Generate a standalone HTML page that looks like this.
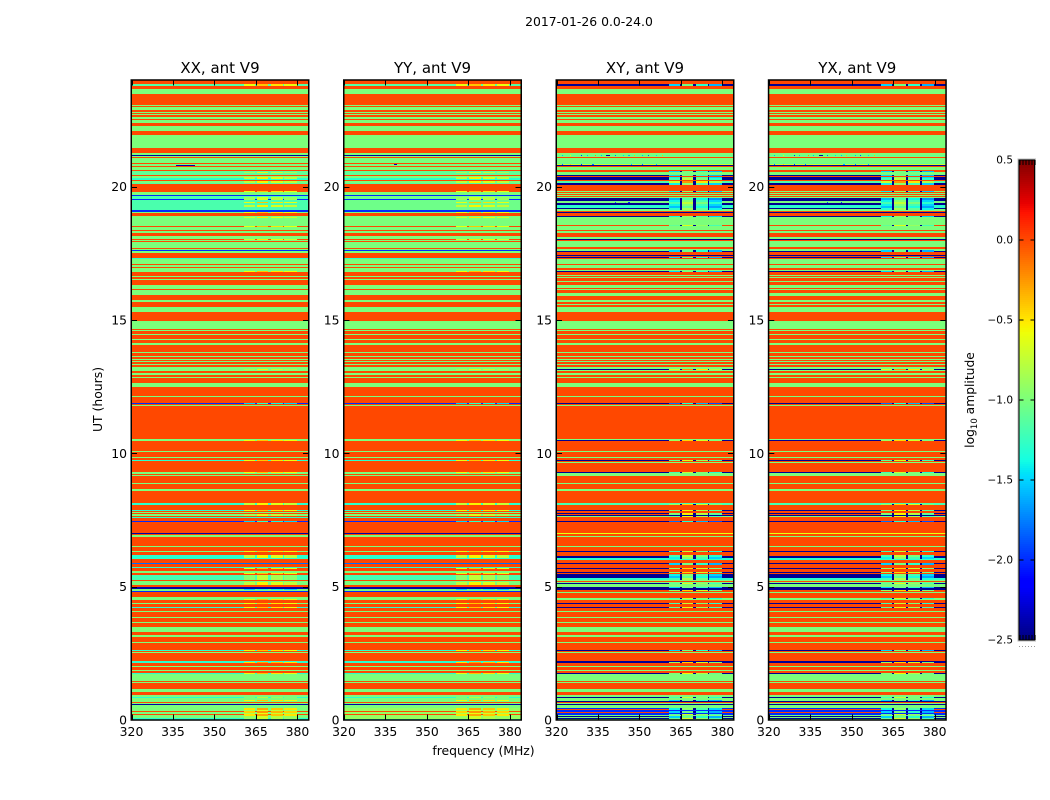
<!DOCTYPE html>
<html lang="en">
<head>
<meta charset="utf-8">
<title>2017-01-26 0.0-24.0 amplitude spectrograms</title>
<style>
html,body{margin:0;padding:0;background:#fff;width:1050px;height:800px;overflow:hidden}
svg{display:block}
text{font-family:"DejaVu Sans","Liberation Sans",sans-serif;fill:#000}
</style>
</head>
<body>
<svg id="figure" xmlns="http://www.w3.org/2000/svg" width="1050" height="800" viewBox="0 0 1050 800">
  <rect x="0" y="0" width="1050" height="800" fill="#fff"/>
  <text x="589" y="26" font-size="12.4" text-anchor="middle">2017-01-26 0.0-24.0</text>
  <text transform="translate(102,399.5) rotate(-90)" font-size="12.4" text-anchor="middle">UT (hours)</text>
  <text x="483.5" y="755" font-size="12.4" text-anchor="middle">frequency (MHz)</text>
  <text transform="translate(974,400) rotate(-90)" font-size="12.3" text-anchor="middle">log<tspan font-size="8.5" dy="3">10</tspan><tspan dy="-3"> amplitude</tspan></text>
  <g id="panels"></g>
  <g id="colorbar"></g>
</svg>
<script>
// Panel titles and axis values
const panelTitles = ["XX, ant V9", "YY, ant V9", "XY, ant V9", "YX, ant V9"];
const freqTickLabels = [320, 335, 350, 365, 380];
const hourTickLabels = [0, 5, 10, 15, 20];
const colorbarTickValues = [0.5, 0, -0.5, -1, -1.5, -2, -2.5];
const colorbarTickLabels = ["0.5", "0.0", "\u22120.5", "\u22121.0", "\u22121.5", "\u22122.0", "\u22122.5"];

// log10 amplitude by time row, read from 24 h downward; flat pairs: value, rows
const parallelRuns = [0,4,-1.15,2,0,3,-1,5,0,11,-1,1,0,1,-1,3,0,2,-1,1,0,1,-1,1,0,2,-1,2,0,1,-1,3,0,3,-1,5,0,4,-1,13,0,5,-1,2,-2.4,1,-1,1,0,1,-1,5,0,1,-1,2,0,1,-1,3,0,1,-1.1,4,0,1,-1,2,-1.3,2,0,1,-1,2,-1.15,1,0,8,-1,3,-2,1,-1.2,3,-2,1,-1.18,10,-2,2,-1,1,0,3,-1,10,0,1,-1,3,0,1,-1,2,0,3,-1,3,0,1,-1,1,0,1,-1,6,0,1,-1,1,-2,1,-1,2,0,5,-1.3,1,-1,5,0,1,-1,2,0,1,-1,4,0,4,-1,1,0,2,-1,1,0,5,-1,4,0,1,-1,5,0,5,-1,2,0,2,0,3,-1,5,0,9,-1,8,0,1,-1,1,0,3,-1,1,0,4,-1,1,0,3,-1,2,0,7,-1,1,0,3,-1,1,0,2,-1,1,0,1,-1,1,0,2,-1,1,0,2,-1,4,0,2,-1,2,0,2,-1,1,0,5,-1,4,0,9,-1,1,0,6,-2,1,0,1,-1,1,0,33,-1,2,0,10,-1,1,0,5,-1,1,0,2,-1.3,1,0,11,-1,2,0,1,-1,1,0,7,-1,1,0,5,-1,2,0,12,-1.3,2,0,5,-1.3,1,0,1,-1,1,0,1,-1,2,0,1,-1.3,1,0,3,-2,1,0,11,-2.4,1,0,1,-1,2,0,9,-1,1,0,4,-1,1,0,3,-1.3,4,0,4,-1.8,1,0,3,-1.3,1,0,3,-1,2,0,2,-1.2,5,0,1,-1,4,0,2,-2.4,2,-1,2,-2,1,0,5,-1,3,0,3,-1,1,0,3,-1.3,1,0,3,-1,1,0,5,-1,1,0,4,-1,1,0,4,-1,5,0,3,-1,2,0,5,-1,1,0,7,-1.3,1,0,1,-1,1,0,8,-1.3,2,0,3,-1,1,0,3,-1,1,0,2,-1.3,1,-1,7,0,1,-1,1,0,6,-1,3,0,3,-1,2,-1.3,1,-1,4,0,1,-1,1,-2.4,1,-1,3,-1,3,0,1,-1,2,0,1,-1,3,-1.3,2];
const crossRuns = [0,4,-2.45,2,0,3,-1,5,0,11,-1,1,0,1,-1,3,0,2,-1,1,0,1,-1,1,0,2,-1,2,0,1,-1,3,0,3,-1,5,0,4,-1,13,0,5,-1,2,-1.1,1,-1,1,0,1,-1,5,-1.1,1,-0.7,1,-2.45,1,0,1,-1,3,0,2,-1,3,-2.45,1,0,1,-2.45,3,0,1,-1.15,2,-2.45,2,0,6,-1,1,0,1,-1,1,0,1,-1,1,0,1,-1,1,-2.45,3,-1,2,-2.45,2,-1.3,3,-2.45,1,-1,2,0,1,-2.45,1,0,3,-2.45,1,-1,8,0,1,-1,4,0,1,-1,2,0,4,-1,2,-2.45,1,0,1,-1,6,0,2,-1,2,-2.45,1,0,3,-2.45,1,0,1,-2.45,1,0,1,-1,5,0,1,-1,3,0,2,-1,1,-2.45,1,0,3,-1,1,0,1,-1,1,0,3,-1,1,0,3,-1,3,0,1,-1,1,0,3,-1,3,0,4,-1,2,0,2,-1,1,0,2,-1,5,0,9,-1,8,0,1,-1,1,0,3,-1,1,0,4,-1,1,0,3,-1,2,0,7,-1,1,0,3,-1,1,0,2,-1,1,0,1,-1,1,0,2,-1,1,0,2,-1,2,-2.45,1,-1,1,0,2,-1,2,0,2,-1,1,0,5,-1,4,0,9,-1,1,0,6,-2.45,1,0,1,-1,1,0,33,-1,1,-2.45,1,0,10,-1,1,0,5,-1,1,0,2,-2.45,1,0,1,-1,1,0,9,-2.45,1,-1,2,-1,1,0,7,-1,1,0,5,-1,2,0,12,-1.2,2,0,5,-2.45,1,0,2,-2.45,1,0,1,-2.45,1,-1,1,0,4,-2.45,1,0,11,-0.6,1,0,2,-1,1,0,9,-1,1,0,4,-2.45,1,0,4,-2.45,2,-1.3,2,0,3,-2.45,1,0,4,-2.45,1,0,3,-2.45,1,0,1,-2.45,4,-1.3,2,-1,1,0,1,-1,1,-2.45,1,-1,3,-2.45,3,0,2,-1,1,0,5,-1,2,0,3,-2.45,1,0,3,-2.45,1,0,3,-1,1,0,5,-1,1,0,4,-1,1,0,4,-1,5,0,3,-1,2,0,5,-1,1,0,7,-2.45,1,0,1,-1,1,0,8,-2.45,2,0,3,-1,1,0,3,-1,1,0,2,-2.45,1,-1,7,0,1,-1,1,0,6,-1,3,0,3,-1,2,-2.45,1,-1,3,-2.45,1,0,1,-1,1,-2.45,1,-1,3,-2,1,0,1,-2,2,0,1,-2,2,-1,1,-2.45,1,-1,1,-2.45,1,-1,1];

// Sub-band behaviour near 360-380 MHz; flat triples: first row, rows, value
const parallelBand = [4,2,-0.5,92,1,-0.75,97,2,-0.65,101,2,-0.65,111,1,-0.5,117,3,-0.8,122,1,-0.5,125,2,-0.65,132,1,-0.5,137,1,-0.6,146,1,-0.5,159,1,-0.6,191,1,-0.5,289,1,-0.75,323,1,-1.4,360,1,-0.5,380,1,-0.5,392,1,-0.5,423,2,-0.65,430,1,-0.5,434,2,-0.75,441,1,-1.4,471,1,-0.5,475,3,-0.65,488,1,-0.5,493,1,-0.5,495,5,-0.85,502,3,-0.65,509,1,-1.4,519,1,-0.5,523,1,-0.5,527,1,-0.5,570,1,-0.5,582,1,-0.4,593,1,-0.5,617,1,-0.9,620,1,-0.5,628,2,-0.4,630,1,-0.75,631,2,-0.35,633,1,-0.7,634,2,-0.4,636,3,-0.8];
const crossBand = [4,2,-1.4,91,1,-1.4,95,1,-1.4,97,1,-1.3,98,2,-1.1,101,2,-0.6,103,2,-1.3,111,1,-1.3,118,2,-1.5,120,2,-1.3,122,2,-1.1,124,2,-1.3,126,2,-1.45,128,2,-1.2,136,1,-1.3,145,1,-1,170,2,-1.4,177,1,-1.4,191,1,-1.4,289,1,-0.6,323,1,-1.7,360,1,-0.8,380,1,-1,392,1,-1.1,424,1,-0.8,430,1,-0.9,433,2,-0.9,436,1,-1,441,1,-1.7,471,1,-1.1,475,2,-1.1,477,2,-1.3,483,2,-1.4,488,1,-0.8,492,1,-0.8,494,2,-1.3,496,2,-1.45,498,2,-1.15,503,1,-1,507,1,-1.4,510,1,-0.8,518,1,-1.1,523,1,-1.1,527,1,-1,570,1,-1.4,582,1,-0.8,593,1,-0.9,617,1,-1.1,620,1,-1.4,628,2,-1.3,631,2,-1.4,634,1,-1,636,2,-1.4,638,1,-1];
const bandBlockStartsMHz = [360.5, 365.3, 370.3, 375.3];
const bandBlockEndsMHz = [364.5, 369.5, 374.6, 379.8];
const parallelBlockOffsets = [-0.1, 0.1, 0, -0.1];
const crossBlockOffsets = [-0.1, 0.35, 0.1, -0.2];
const crossGapValue = -2.45;

// Panel differences; flat triples: first row, rows, value applied to low-amplitude rows
const yyTweaks = [116,3,-1.05,120,10,-1.05,628,11,-0.9];
const yxTweaks = [];

// Small spots; flat quads: row, start MHz, end MHz, value
const parallelSpecks = [85,336,343,-2.4];
const yySpecks = [84,338,339,-2.4];
const crossSpecks = [75,322,322.4,-1.6,75,325,325.4,-0.6,75,329,329.4,-2,75,331,331.4,-1.6,75,334,334.4,-0.2,75,336,336.4,-1.6,75,338,339.5,-2.4,75,341,341.4,-1.8,75,344,344.4,-1.5,75,346,346.4,-1.6,75,348,348.4,-0.4,75,351,351.4,-1.6,75,353,353.4,-1.9,75,356,356.4,-1.5,75,358,358.4,-0.4,84,322,322.4,-1.8,84,325,325.4,-0.4,84,329,329.4,-2,84,333,333.4,-1.8,85,336,343,-2.4,84,347,347.4,-1.6,84,351,351.4,-1.8,84,354,354.4,-0.6,84,356,356.4,-1.6,122,346,346.4,-2,122,341,341.4,-1.9];

const panelRuns = [parallelRuns, parallelRuns, crossRuns, crossRuns];
const panelBands = [parallelBand, parallelBand, crossBand, crossBand];
const panelOffsets = [parallelBlockOffsets, parallelBlockOffsets, crossBlockOffsets, crossBlockOffsets];
const panelTweaks = [[], yyTweaks, [], yxTweaks];
const panelSpecks = [parallelSpecks, yySpecks, crossSpecks, crossSpecks];
const panelGaps = [null, null, crossGapValue, crossGapValue];

const NS = "http://www.w3.org/2000/svg";
const axesLefts = [131.5, 344, 556.5, 768.8];
const axesWidth = 177, axesTop = 80, axesHeight = 640;
const freqMin = 320, freqMax = 384, hoursMax = 24, rowCount = 640;
const cbarLeft = 1019.5, cbarWidth = 15, cbarTop = 160, cbarHeight = 480, cbarMin = -2.5, cbarMax = 0.5;

function make(tag, attrs, parent) {
  const el = document.createElementNS(NS, tag);
  for (const k in attrs) el.setAttribute(k, attrs[k]);
  parent.appendChild(el);
  return el;
}
function interp(points, t) {
  for (let i = 1; i < points.length; i++) {
    if (t <= points[i][0]) {
      const a = points[i - 1], b = points[i];
      return a[1] + (b[1] - a[1]) * (t - a[0]) / (b[0] - a[0]);
    }
  }
  return points[points.length - 1][1];
}
function jet(v) {
  const t = Math.min(1, Math.max(0, (v - cbarMin) / (cbarMax - cbarMin)));
  const r = interp([[0,0],[0.35,0],[0.66,1],[0.89,1],[1,0.5]], t);
  const g = interp([[0,0],[0.125,0],[0.375,1],[0.64,1],[0.91,0],[1,0]], t);
  const b = interp([[0,0.5],[0.11,1],[0.34,1],[0.65,0],[1,0]], t);
  return "rgb(" + Math.round(r * 255) + "," + Math.round(g * 255) + "," + Math.round(b * 255) + ")";
}
function xScale(left, mhz) { return left + (mhz - freqMin) / (freqMax - freqMin) * axesWidth; }
function yScale(hours) { return axesTop + axesHeight - hours / hoursMax * axesHeight; }
function rowY(row) { return yScale(hoursMax - row * hoursMax / rowCount); }
function cbarY(v) { return cbarTop + (cbarMax - v) / (cbarMax - cbarMin) * cbarHeight; }

function expandRows(runs, tweaks) {
  const rows = [];
  for (let i = 0; i < runs.length; i += 2) {
    for (let n = 0; n < runs[i + 1]; n++) rows.push(runs[i]);
  }
  while (rows.length < rowCount) rows.push(rows[rows.length - 1]);
  for (let i = 0; i < tweaks.length; i += 3) {
    for (let r = tweaks[i]; r < tweaks[i] + tweaks[i + 1]; r++) {
      if (rows[r] < -0.9 && rows[r] > -1.5) rows[r] = tweaks[i + 2];
    }
  }
  return rows.slice(0, rowCount);
}

function drawCell(parent, left, mhzA, mhzB, rowA, rowB, value, name) {
  const x0 = Math.round(xScale(left, mhzA)), x1 = Math.round(xScale(left, mhzB));
  const y0 = rowY(rowA), y1 = rowY(rowB);
  const cell = make("rect", {x: x0, y: y0, width: Math.max(1, x1 - x0), height: y1 - y0, fill: jet(value), "shape-rendering": "crispEdges"}, parent);
  
  
}

function drawPanel(index) {
  const left = axesLefts[index];
  const root = document.getElementById("panels");
  const panel = make("g", {}, root);
  
  

  const rows = expandRows(panelRuns[index], panelTweaks[index]);
  let start = 0;
  for (let r = 1; r <= rows.length; r++) {
    if (r === rows.length || rows[r] !== rows[start]) {
      drawCell(panel, left, freqMin, freqMax, start, r, rows[start], 'heatmap-row');
      start = r;
    }
  }

  const band = panelBands[index];
  const offsets = panelOffsets[index];
  for (let i = 0; i < band.length; i += 3) {
    const first = band[i], end = band[i] + band[i + 1], value = band[i + 2];
    for (let b = 0; b < bandBlockStartsMHz.length; b++) {
      drawCell(panel, left, bandBlockStartsMHz[b], bandBlockEndsMHz[b], first, end, value + offsets[b], 'heatmap-band-cell');
      if (panelGaps[index] !== null && b < bandBlockStartsMHz.length - 1) {
        drawCell(panel, left, bandBlockEndsMHz[b], bandBlockStartsMHz[b + 1], first, end, panelGaps[index], 'heatmap-gap-cell');
      }
    }
  }

  const specks = panelSpecks[index];
  for (let i = 0; i < specks.length; i += 4) {
    drawCell(panel, left, specks[i + 1], specks[i + 2], specks[i], specks[i] + 1, specks[i + 3], 'heatmap-speck');
  }

  const frame = make("rect", {x: left - 0.25, y: axesTop, width: axesWidth + 0.5, height: axesHeight, fill: "none", stroke: "#000", "stroke-width": 1.5}, panel);
  
  

  freqTickLabels.forEach(function (f) {
    const x = Math.round(xScale(left, f)) + 0.5;
    const bottom = make("line", {x1: x, x2: x, y1: axesTop + axesHeight, y2: axesTop + axesHeight - 5.5, stroke: "#000", "stroke-width": 1}, panel);
    
    
    const top = make("line", {x1: x, x2: x, y1: axesTop, y2: axesTop + 5.5, stroke: "#000", "stroke-width": 1}, panel);
    
    
    const label = make("text", {x: xScale(left, f), y: 736, "font-size": 12.4, "text-anchor": "middle"}, panel);
    
    
    label.textContent = f;
  });

  hourTickLabels.forEach(function (h) {
    const y = Math.round(yScale(h)) + (h === 0 ? 0 : 0.5);
    const l = make("line", {x1: left, x2: left + 5.5, y1: y, y2: y, stroke: "#000", "stroke-width": 1}, panel);
    
    
    const r = make("line", {x1: left + axesWidth, x2: left + axesWidth - 5.5, y1: y, y2: y, stroke: "#000", "stroke-width": 1}, panel);
    
    
    const label = make("text", {x: left - 4.5, y: yScale(h) + 4.5, "font-size": 12.4, "text-anchor": "end"}, panel);
    
    
    label.textContent = h;
  });

  const title = make("text", {x: left + axesWidth / 2, y: 73, "font-size": 15, "text-anchor": "middle"}, panel);
  
  
  title.textContent = panelTitles[index];
}

function drawColorbar() {
  const root = document.getElementById("colorbar");
  const halo = make("rect", {x: cbarLeft - 1.5, y: cbarTop - 1, width: cbarWidth + 2.5, height: cbarHeight + 2, fill: "none", stroke: "#bbb", "stroke-width": 1}, root);
  
  
  const steps = 240;
  for (let i = 0; i < steps; i++) {
    const v = cbarMax - (i + 0.5) / steps * (cbarMax - cbarMin);
    const seg = make("rect", {x: cbarLeft, y: cbarTop + i * cbarHeight / steps, width: cbarWidth, height: cbarHeight / steps + 0.3, fill: jet(v), "shape-rendering": "crispEdges"}, root);
    
    
  }
  const frame = make("rect", {x: cbarLeft - 0.5, y: cbarTop, width: cbarWidth + 0.5, height: cbarHeight, fill: "none", stroke: "#000", "stroke-width": 1}, root);
  
  
  colorbarTickValues.forEach(function (v, i) {
    const y = cbarY(v);
    const a = make("line", {x1: cbarLeft, x2: cbarLeft + 4, y1: y, y2: y, stroke: "#000", "stroke-width": 1}, root);
    
    
    const b = make("line", {x1: cbarLeft + cbarWidth, x2: cbarLeft + cbarWidth - 4, y1: y, y2: y, stroke: "#000", "stroke-width": 1}, root);
    
    
    const label = make("text", {x: cbarLeft - 6.5, y: y + 3.5, "font-size": 10.5, "text-anchor": "end"}, root);
    
    
    label.textContent = colorbarTickLabels[i];
  });
  for (let i = 0; i < 6; i++) {
    const x = cbarLeft + 0.5 + i * 3;
    const t = make("line", {x1: x, x2: x, y1: cbarTop, y2: cbarTop + 5, stroke: "#000", "stroke-width": 1}, root);
    
    
    const u = make("line", {x1: x, x2: x, y1: cbarTop + cbarHeight, y2: cbarTop + cbarHeight - 5, stroke: "#000", "stroke-width": 1}, root);
    
    
    const d = make("rect", {x: x - 1, y: 646, width: 1, height: 1, fill: "#999"}, root);
    
    
  }
}

panelTitles.forEach(function (_, i) { drawPanel(i); });
drawColorbar();
</script>
</body>
</html>
